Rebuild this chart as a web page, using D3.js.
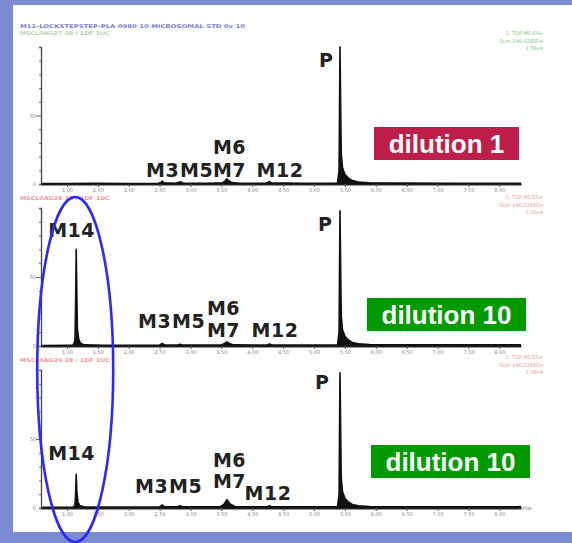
<!DOCTYPE html>
<html>
<head>
<meta charset="utf-8">
<script src="https://cdn.jsdelivr.net/npm/d3@7"></script>
<style>
  body { margin: 0; background: #7a8bd2; }
  svg { display: block; }
</style>
</head>
<body>
<svg id="chart" width="572" height="543"></svg>
<script>
// ---- data ----
const timeTicks = [1.0, 1.5, 2.0, 2.5, 3.0, 3.5, 4.0, 4.5, 5.0, 5.5, 6.0, 6.5, 7.0, 7.5, 8.0];
const pctTicks = [0, 10, 20, 30, 40, 50, 60, 70, 80, 90, 100];
const pctLabels = [0, 50];

const dilutionNames = ["dilution 1", "dilution 10", "dilution 10"];

const peakNames = ["M14", "M3", "M5", "M6", "M7", "M12", "P"];
const peakTimes = [1.15, 2.54, 2.83, 3.59, 3.59, 4.28, 5.42];

// chromatogram traces: [retention time (min), relative intensity (%)]
const traceDilution1 = [
  [0.60, 0.4], [1.00, 0.4], [1.50, 0.5], [2.00, 0.4], [2.48, 0.5], [2.52, 1.0], [2.54, 2.2], [2.57, 0.8],
  [2.75, 0.6], [2.80, 1.0], [2.83, 1.6], [2.88, 0.7], [3.30, 0.6], [3.52, 0.9], [3.56, 2.2],
  [3.59, 3.8], [3.62, 2.4], [3.67, 1.0], [3.80, 0.6], [4.22, 0.6], [4.26, 1.2], [4.28, 1.8], [4.31, 0.8],
  [4.80, 0.6], [5.38, 0.7], [5.405, 10], [5.415, 70], [5.42, 100], [5.43, 60], [5.44, 22], [5.46, 12],
  [5.50, 7], [5.55, 4.5], [5.62, 2.5], [5.72, 1.4], [5.90, 0.9], [6.40, 0.7], [7.20, 0.6], [8.35, 0.6]
];
const traceDilution10a = [
  [0.60, 0.4], [1.00, 0.5], [1.10, 0.6], [1.13, 4], [1.14, 30], [1.15, 70], [1.16, 38], [1.17, 12],
  [1.19, 5], [1.22, 2], [1.28, 0.8], [1.60, 0.5], [2.00, 0.5], [2.50, 0.6], [2.54, 1.8], [2.58, 0.7],
  [2.80, 0.7], [2.83, 1.2], [2.87, 0.7], [3.50, 0.7], [3.55, 1.8], [3.59, 3.0], [3.63, 1.8], [3.70, 0.8],
  [4.24, 0.7], [4.28, 1.4], [4.32, 0.7], [5.38, 0.8], [5.405, 10], [5.415, 70], [5.42, 98], [5.43, 60],
  [5.44, 22], [5.46, 12], [5.50, 7], [5.55, 4.5], [5.62, 2.6], [5.72, 1.6], [5.90, 1.1], [6.40, 0.9],
  [7.20, 0.8], [8.35, 0.8]
];
const traceDilution10b = [
  [0.60, 0.5], [1.00, 0.5], [1.10, 0.6], [1.13, 2], [1.14, 10], [1.15, 24.5], [1.16, 12], [1.18, 4],
  [1.21, 1.6], [1.28, 0.8], [1.60, 0.6], [2.00, 0.6], [2.50, 0.7], [2.54, 2.2], [2.58, 0.8],
  [2.78, 0.8], [2.83, 1.6], [2.88, 0.8], [3.48, 0.9], [3.54, 2.6], [3.59, 6.0], [3.64, 3.0], [3.72, 1.1],
  [4.24, 0.8], [4.28, 1.6], [4.32, 0.8], [5.38, 0.9], [5.405, 10], [5.415, 70], [5.42, 98], [5.43, 60],
  [5.44, 22], [5.46, 12], [5.50, 7], [5.55, 4.5], [5.62, 2.6], [5.72, 1.6], [5.90, 1.1], [6.40, 0.9],
  [7.20, 0.8], [8.35, 0.8]
];
const traces = [traceDilution1, traceDilution10a, traceDilution10b];

// acquisition headers printed above each trace
const sampleIds = [
  "M11-LOCKSTEPSTEP-PLA 0980 10 MICROSOMAL STD 0v 10",
  "MSCL0AG28 38 / 1DF 1UC",
  "MSCL0AG29 38 / 1DF 1UC"
];
const runIds = ["MSCL0AG27 38 / 1DF 1UC", "", ""];
const detectorLines = [
  ["1: TOF MS ES+", "Sum 146.0285Da", "1.56e4"],
  ["1: TOF MS ES+", "Sum 146.0285Da", "1.10e4"],
  ["1: TOF MS ES+", "Sum 146.0285Da", "1.06e4"]
];

// ---- layout ----
const svg = d3.select("#chart");
const W = 572, H = 543;

svg.append("rect").attr("x", 0).attr("y", 0).attr("width", W).attr("height", H).attr("fill", "#7a8bd2");
svg.append("rect").attr("x", 13).attr("y", 5).attr("width", W - 13).attr("height", 527).attr("fill", "#ffffff");

const x = d3.scaleLinear().domain([0.58, 8.35]).range([41, 521]);

const panels = [
  { top: 46, base: 184, box: [374, 127, 145, 33], boxColor: "#be1e4a", headColor: "#5a5ad8", rightColor: "#5fb65f" },
  { top: 207, base: 346, box: [367, 298, 159, 33], boxColor: "#009a00", headColor: "#f07a7a", rightColor: "#f07a7a" },
  { top: 369, base: 508, box: [371, 445, 159, 33], boxColor: "#009a00", headColor: "#f07a7a", rightColor: "#f07a7a" }
];

// label placement per panel: [peak name, dx from peak, dy from baseline]
const labelLayout = [
  [["P", -21, -117], ["M6", -14, -30], ["M3", -16, -7], ["M5", 0, -7], ["M7", -14, -7], ["M12", -13, -7]],
  [["M14", -28, -109], ["P", -22, -115], ["M6", -20, -31], ["M3", -24, -18], ["M5", -8, -18], ["M7", -20, -9], ["M12", -18, -9]],
  [["M14", -28, -48], ["P", -25, -119], ["M6", -14, -41], ["M3", -27, -15], ["M5", -11, -15], ["M7", -14, -20], ["M12", -25, -8]]
];

const headerY = [[28, 35], [200, 0], [362, 0]];
const rightY = [35, 199, 359];

panels.forEach((p, i) => {
  const y = d3.scaleLinear().domain([0, 100]).range([p.base, p.top + 1]);
  const g = svg.append("g");

  // headers
  g.append("text").attr("x", 20).attr("y", headerY[i][0])
    .attr("textLength", i === 0 ? 225 : 90).attr("lengthAdjust", "spacingAndGlyphs")
    .attr("font-family", "DejaVu Sans").attr("font-size", 5).attr("font-weight", "bold")
    .attr("fill", p.headColor).attr("opacity", 0.8).text(sampleIds[i]);
  if (runIds[i]) {
    g.append("text").attr("x", 20).attr("y", headerY[i][1])
      .attr("textLength", 90).attr("lengthAdjust", "spacingAndGlyphs")
      .attr("font-family", "DejaVu Sans").attr("font-size", 5)
      .attr("fill", "#6aaa6a").attr("opacity", 0.8).text(runIds[i]);
  }
  detectorLines[i].forEach((t, k) => {
    g.append("text").attr("x", 543).attr("y", rightY[i] + k * 7.5)
      .attr("text-anchor", "end").attr("font-family", "DejaVu Sans").attr("font-size", 5)
      .attr("fill", p.rightColor).attr("opacity", 0.8).text(t);
  });

  // y axis
  const yAxis = d3.axisLeft(y).tickValues(pctTicks).tickSize(2)
    .tickFormat(d => pctLabels.includes(d) ? String(d) : "");
  const ya = g.append("g").attr("transform", `translate(${x.range()[0]},0)`).call(yAxis);
  ya.select(".domain").attr("stroke", "#444").attr("stroke-width", 1.3);
  ya.selectAll(".tick line").attr("stroke", "#666");
  ya.selectAll(".tick text").attr("font-size", 5).attr("fill", "#888").attr("font-family", "DejaVu Sans");
  ya.selectAll(".tick").filter(d => d === 50).select("line").attr("x2", -5);

  // x axis
  const xAxis = d3.axisBottom(x).tickValues(timeTicks).tickSize(3).tickSizeOuter(0)
    .tickFormat(d3.format(".2f"));
  const xa = g.append("g").attr("transform", `translate(0,${p.base})`).call(xAxis);
  xa.select(".domain").attr("stroke", "#222").attr("stroke-width", 1.8);
  xa.selectAll(".tick line").attr("stroke", "#555");
  xa.selectAll(".tick text").attr("font-size", 5).attr("fill", "#888").attr("font-family", "DejaVu Sans")
    .attr("y", 4).attr("dy", "0.71em");

  if (i === 2) {
    g.append("text").attr("x", 517).attr("y", p.base + 2).attr("font-family", "DejaVu Sans")
      .attr("font-size", 6).attr("fill", "#888").text("Time");
  }

  // chromatogram
  const area = d3.area().x(d => x(d[0])).y0(p.base).y1(d => y(d[1]));
  const line = d3.line().x(d => x(d[0])).y(d => y(d[1]));
  g.append("path").datum(traces[i]).attr("d", area).attr("fill", "#111");
  g.append("path").datum(traces[i]).attr("d", line).attr("fill", "none")
    .attr("stroke", "#111").attr("stroke-width", 1.6).attr("stroke-linejoin", "round");

  // peak labels
  labelLayout[i].forEach(([name, dx, dy]) => {
    const t = peakTimes[peakNames.indexOf(name)];
    g.append("text").attr("x", x(t) + dx).attr("y", p.base + dy)
      .attr("font-family", "DejaVu Sans").attr("font-weight", "bold").attr("font-size", 19)
      .attr("letter-spacing", 0.5).attr("fill", "#222").text(name);
  });

  // dilution tag
  const [bx, by, bw, bh] = p.box;
  g.append("rect").attr("x", bx).attr("y", by).attr("width", bw).attr("height", bh).attr("fill", p.boxColor);
  g.append("text").attr("x", bx + bw / 2).attr("y", by + bh - 7).attr("text-anchor", "middle")
    .attr("font-family", "Liberation Sans, Arial, sans-serif").attr("font-weight", "bold")
    .attr("font-size", 26).attr("fill", "#ffffff").text(dilutionNames[i]);
});

// highlight around the M14 peaks
svg.append("ellipse").attr("cx", x(peakTimes[0]) - 1).attr("cy", 369.5).attr("rx", 38).attr("ry", 172.5)
  .attr("fill", "none").attr("stroke", "#2a2af5").attr("stroke-width", 2.6);
</script>
</body>
</html>
